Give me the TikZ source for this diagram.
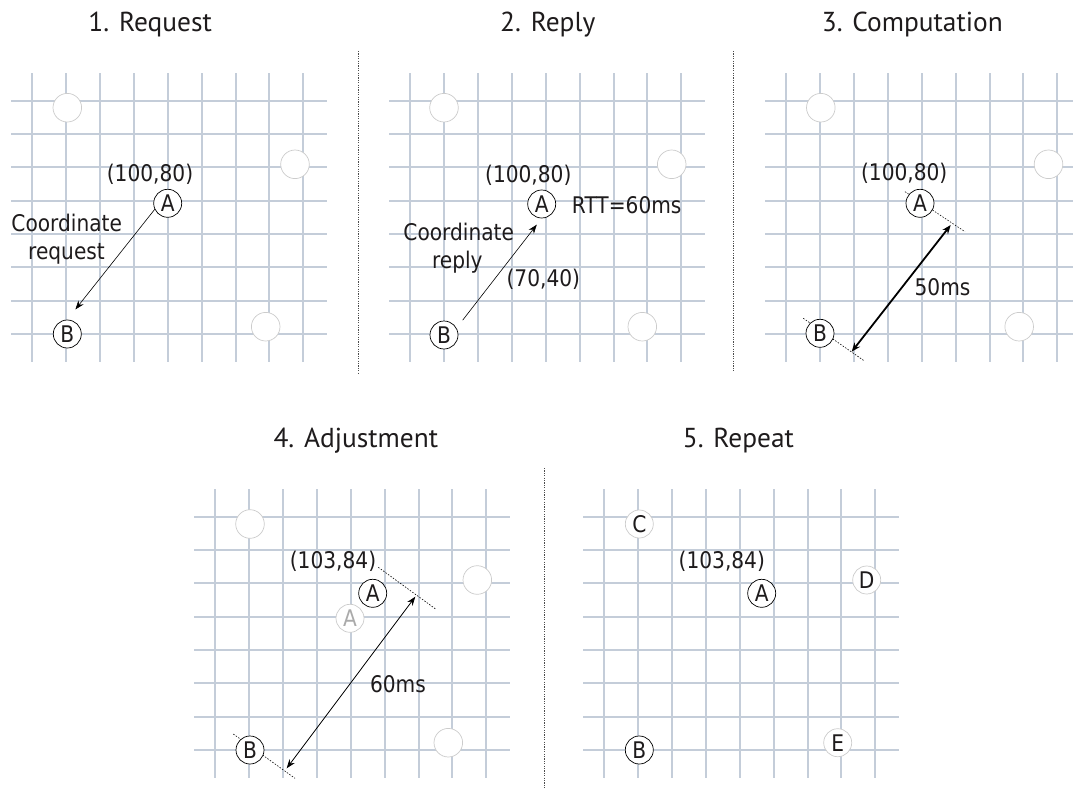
\documentclass[tikz,border=0pt]{standalone}
\usepackage{fontspec}
\setmainfont{DejaVu Sans}
\newfontfamily\lblfont[FakeStretch=0.88]{DejaVu Sans}
\newfontfamily\titlefont{PT Sans}
\usetikzlibrary{arrows.meta,calc}
\definecolor{gridc}{HTML}{C4CDD9}
\definecolor{txt}{HTML}{1E1B1C}
\definecolor{ghost}{HTML}{CCCCCC}
\definecolor{ghosttxt}{HTML}{AAAAAA}
\tikzset{
  gridline/.style={draw=gridc, line width=1.3bp},
  emptycirc/.style={circle, draw=ghost, fill=white, line width=0.7bp, minimum size=28.6bp, inner sep=0pt},
  peer/.style={circle, draw=black, fill=white, line width=0.7bp, minimum size=28bp, inner sep=0pt, font=\lblfont\fontsize{23}{23}\selectfont, text=txt},
  graypeer/.style={peer, draw=ghost},
  oldpeer/.style={peer, draw=ghost, text=ghosttxt},
  lbl/.style={font=\lblfont\fontsize{23}{28}\selectfont, text=txt, inner sep=0pt, anchor=base},
  ttl/.style={font=\titlefont\fontsize{27.5}{30}\selectfont, text=txt, inner sep=0pt, anchor=base west},
  sepline/.style={draw=black!70, line width=1.5bp, dash pattern=on 1.2bp off 1.2bp},
  perp/.style={draw=black, line width=0.6bp, dash pattern=on 1.5bp off 1.5bp},
  msg/.style={draw=black, line width=0.6bp, -{Stealth[length=9bp,width=6.5bp]}},
  thickdist/.style={draw=black, line width=1.8bp, {Stealth[length=9bp,width=7bp]}-{Stealth[length=9bp,width=7bp]}},
  thindist/.style={draw=black, line width=0.8bp, {Stealth[length=9bp,width=6.5bp]}-{Stealth[length=9bp,width=6.5bp]}}
}
\newcommand\panelgrid[2]{%
  \begin{scope}[shift={(#1,#2)}]
    \foreach \i in {0,...,8} \draw[gridline] ({round(32.3+33.87*\i)},73.3) -- ({round(32.3+33.87*\i)},361.7);
    \foreach \j in {0,...,7} \draw[gridline] (11,{round(100.7+33.33*\j)}) -- (326.7,{round(100.7+33.33*\j)});
  \end{scope}}
\begin{document}
\begin{tikzpicture}[x=1bp,y=-1bp]
\useasboundingbox (0,0) rectangle (1073,789);
\clip (0,0) rectangle (1073,789);

% titles
\node[ttl] (t1) at (88.3,31.7) {1. Request};
\node[ttl] (t2) at (500,31.7) {2. Reply};
\node[ttl] (t3) at (821.7,31.7) {3. Computation};
\node[ttl] (t4) at (273.3,447.3) {4. Adjustment};
\node[ttl] (t5) at (682.7,447.3) {5. Repeat};

% separators
\draw[sepline] (358.3,51) -- (358.3,373);
\draw[sepline] (733.3,51) -- (733.3,372);
\draw[sepline] (544.5,468) -- (544.5,789);

% grids
\panelgrid{0}{0}
\panelgrid{378}{0}
\panelgrid{754}{0}
\panelgrid{183}{416}
\panelgrid{572}{416}

% ---------- panel 1
\node[emptycirc] (p1c1) at (67.3,107.7) {};
\node[emptycirc] (p1c2) at (295,164.3) {};
\node[emptycirc] (p1c3) at (265.7,326.7) {};
\node[peer] (A1) at (167.7,203.3) {A};
\node[peer] (B1) at (67.3,334) {B};
\node[lbl] (l1) at (150,181.7) {(100,80)};
\node[lbl] (cr1a) at (66.7,231.7) {Coordinate};
\node[lbl] (cr1b) at (66.5,259.5) {request};
\draw[msg, shorten >=13bp] (A1.205) -- (B1.north);

% ---------- panel 2
\node[emptycirc] (p2c1) at (444,107.7) {};
\node[emptycirc] (p2c2) at (671.7,164.3) {};
\node[emptycirc] (p2c3) at (642.3,326.7) {};
\node[peer] (A2) at (541.7,204) {A};
\node[peer] (B2) at (444,335) {B};
\node[lbl] (l2) at (528.3,182) {(100,80)};
\node[lbl] (rtt) at (626.7,213.3) {RTT=60ms};
\node[lbl] (cr2a) at (458.7,240) {Coordinate};
\node[lbl] (cr2b) at (457.3,268) {reply};
\node[lbl] (l2b) at (543.3,286.7) {(70,40)};
\draw[msg, shorten <=10bp, shorten >=8bp] (B2.29) -- (A2.south);

% ---------- panel 3
\node[emptycirc] (p3c1) at (820.8,107.7) {};
\node[emptycirc] (p3c2) at (1048.5,164.3) {};
\node[emptycirc] (p3c3) at (1019.2,326.7) {};
\draw[perp] ($(920,203.3)+(-15,-11.6)$) -- ($(920,203.3)+(45,28.4)$);
\draw[perp] ($(820,333.3)+(-16.7,-15)$) -- ($(820,333.3)+(44,27.4)$);
\node[peer] (A3) at (920,203.3) {A};
\node[peer] (B3) at (820,333.3) {B};
\node[lbl] (l3) at (904.2,180) {(100,80)};
\node[lbl] (d3) at (942.5,295.7) {50ms};
\coordinate (a3e) at ($(A3)+(30.7,21.7)$);
\coordinate (b3e) at ($(B3)+(31.7,18.4)$);
\draw[thickdist] (a3e) -- (b3e);

% ---------- panel 4
\node[emptycirc] (p4c1) at (250,524) {};
\node[emptycirc] (p4c2) at (477.3,580) {};
\node[emptycirc] (p4c3) at (448.3,742.7) {};
\draw[perp] ($(372.7,593.3)+(5.6,-26)$) -- ($(372.7,593.3)+(63.3,16)$);
\draw[perp] ($(250,750)+(-16.7,-16)$) -- ($(250,750)+(45,28.3)$);
\node[oldpeer] (A4old) at (350,618.3) {A};
\node[peer] (A4) at (372.7,593.3) {A};
\node[peer] (B4) at (250,750) {B};
\node[lbl] (l4) at (333,568.3) {(103,84)};
\node[lbl] (d4) at (398,692.7) {60ms};
\coordinate (a4e) at ($(A4)+(42.6,3.4)$);
\coordinate (b4e) at ($(B4)+(36.7,18.3)$);
\draw[thindist] (a4e) -- (b4e);

% ---------- panel 5
\node[graypeer] (C5) at (639.3,524) {C};
\node[graypeer] (D5) at (866.7,580) {D};
\node[graypeer] (E5) at (837.7,742.7) {E};
\node[peer] (A5) at (761.7,593.3) {A};
\node[peer] (B5) at (639.3,750) {B};
\node[lbl] (l5) at (721.8,568.3) {(103,84)};
\end{tikzpicture}
\end{document}
